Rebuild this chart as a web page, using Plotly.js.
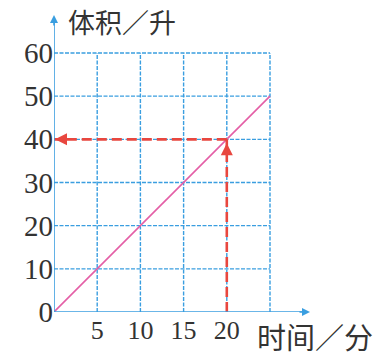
<!DOCTYPE html>
<html>
<head>
<meta charset="utf-8">
<script src="https://cdn.plot.ly/plotly-3.0.1.min.js"></script>
<style>
  html, body { margin: 0; padding: 0; background: #fff; }
  #chart { width: 385px; height: 363px; }
</style>
</head>
<body>
<div id="chart"></div>
<script>
// Volume (litres) against time (minutes)
const timeMin = [0, 5, 10, 15, 20, 25];
const volumeL = [0, 10, 20, 30, 40, 50];

// Axis ticks and grid extent
const xTicks = [5, 10, 15, 20];
const xGrid = [5, 10, 15, 20, 25];
const yTicks = [0, 10, 20, 30, 40, 50, 60];
const yGrid = [10, 20, 30, 40, 50, 60];
const xGridMax = 25;
const yGridMax = 60;

// Reading marked on the graph: at 20 minutes the volume is 40 litres
const readTime = 20;
const readVolume = 40;

// Axis arrows run past the grid
const xArrowEnd = 29.63;
const yArrowEnd = 68.8;

const gridBlue = '#3a9ee0';
const readRed = '#e8473f';
const linePink = '#e45fa6';
const textGray = '#333333';

const shapes = [];
xGrid.forEach(v => shapes.push({
  type: 'line', xref: 'x', yref: 'y', x0: v, x1: v, y0: 0, y1: yGridMax,
  line: { color: gridBlue, width: 1.4, dash: '4px,1.5px' }, layer: 'below'
}));
yGrid.forEach(v => shapes.push({
  type: 'line', xref: 'x', yref: 'y', x0: 0, x1: xGridMax, y0: v, y1: v,
  line: { color: gridBlue, width: 1.4, dash: '4px,1.5px' }, layer: 'below'
}));
// axes
shapes.push({ type: 'line', xref: 'x', yref: 'y', x0: 0, x1: xArrowEnd - 0.6, y0: 0, y1: 0,
  line: { color: gridBlue, width: 1.6 } });
shapes.push({ type: 'line', xref: 'x', yref: 'y', x0: 0, x1: 0, y0: 0, y1: yArrowEnd - 1.2,
  line: { color: gridBlue, width: 1.6 } });

const traces = [
  {
    x: timeMin, y: volumeL, mode: 'lines', type: 'scatter',
    line: { color: linePink, width: 1.6 }, hoverinfo: 'skip'
  },
  {
    x: [readTime, readTime], y: [0, readVolume], mode: 'lines', type: 'scatter',
    line: { color: readRed, width: 2.6, dash: '10px,5px' }, hoverinfo: 'skip'
  },
  {
    x: [readTime, 0], y: [readVolume, readVolume], mode: 'lines', type: 'scatter',
    line: { color: readRed, width: 2.6, dash: '10px,5px' }, hoverinfo: 'skip'
  }
];

const annotations = [
  // axis arrowheads
  { x: xArrowEnd, y: 0, xref: 'x', yref: 'y', ax: -12, ay: 0, text: '', showarrow: true,
    arrowhead: 2, arrowsize: 1, arrowwidth: 1.6, arrowcolor: gridBlue },
  { x: 0, y: yArrowEnd, xref: 'x', yref: 'y', ax: 0, ay: 12, text: '', showarrow: true,
    arrowhead: 2, arrowsize: 1, arrowwidth: 1.6, arrowcolor: gridBlue },
  // reading arrowheads
  { x: readTime, y: readVolume, xref: 'x', yref: 'y', ax: 0, ay: 12, text: '', showarrow: true,
    arrowhead: 2, arrowsize: 1, arrowwidth: 2.4, arrowcolor: readRed, standoff: 4 },
  { x: 0, y: readVolume, xref: 'x', yref: 'y', ax: 12, ay: 0, text: '', showarrow: true,
    arrowhead: 2, arrowsize: 1, arrowwidth: 2.4, arrowcolor: readRed, standoff: 1 },
  // axis titles
  { x: 0.047, y: 1.05, xref: 'paper', yref: 'paper', xanchor: 'left', yanchor: 'top',
    text: '体积／升', showarrow: false,
    font: { family: 'Noto Sans CJK SC', size: 27, color: textGray } },
  { x: 0.785, y: -0.08, xref: 'paper', yref: 'paper', xanchor: 'left', yanchor: 'middle',
    text: '时间／分', showarrow: false,
    font: { family: 'Noto Sans CJK SC', size: 29, color: textGray } }
];

const layout = {
  width: 385, height: 363,
  margin: { l: 54, r: 75, t: 15, b: 51, pad: 0 },
  paper_bgcolor: '#ffffff', plot_bgcolor: '#ffffff',
  showlegend: false,
  xaxis: {
    range: [0, xArrowEnd], tickvals: xTicks, ticktext: xTicks.map(String),
    showgrid: false, zeroline: false, showline: false, ticks: '',
    tickfont: { family: 'Liberation Serif', size: 26, color: textGray },
    fixedrange: true
  },
  yaxis: {
    range: [0, yArrowEnd], tickvals: yTicks, ticktext: yTicks.map(String),
    showgrid: false, zeroline: false, showline: false, ticks: '',
    tickfont: { family: 'Liberation Serif', size: 29, color: textGray },
    fixedrange: true
  },
  shapes: shapes,
  annotations: annotations
};

Plotly.newPlot('chart', traces, layout, { displayModeBar: false, staticPlot: true });
</script>
</body>
</html>
